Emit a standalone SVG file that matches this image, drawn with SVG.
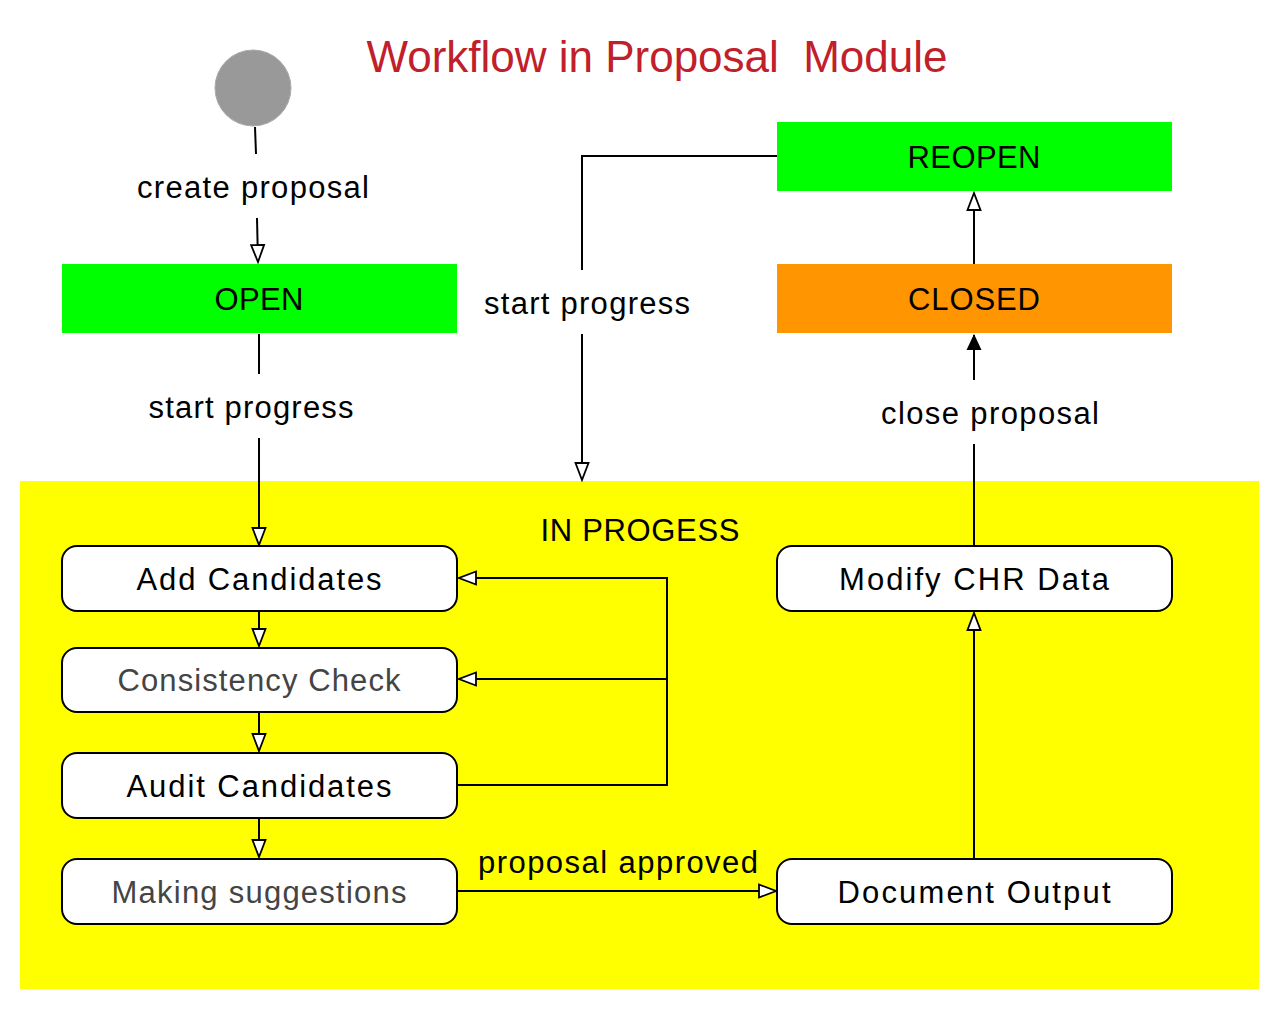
<svg xmlns="http://www.w3.org/2000/svg" width="1279" height="1010" viewBox="0 0 1279 1010">
<defs>
<style>
text{font-family:"Liberation Sans",Arial,sans-serif;text-anchor:middle;fill:#000;font-size:31px}
.g{fill:#444}
.node{fill:#fff;stroke:#000;stroke-width:2}
.c{fill:none;stroke:#000;stroke-width:2}
</style>
<marker id="oa" markerWidth="20" markerHeight="16" refX="18" refY="8" orient="auto" markerUnits="userSpaceOnUse">
<path d="M1,1.5 L18,8 L1,14.5 Z" fill="#fff" stroke="#000" stroke-width="1.8"/>
</marker>
<marker id="fa" markerWidth="16" markerHeight="16" refX="15" refY="8" orient="auto" markerUnits="userSpaceOnUse">
<path d="M0,0.5 L16,8 L0,15.5 Z" fill="#000"/>
</marker>
</defs>
<rect x="0" y="0" width="1279" height="1010" fill="#fff"/>
<text x="657" y="72" xml:space="preserve" textLength="581" lengthAdjust="spacing" style="font-size:44px;fill:#c1202b">Workflow in Proposal  Module</text>
<rect id="inprogress" x="20" y="481" width="1239" height="508" fill="#ffff00"/>
<text x="640" y="541" textLength="199" lengthAdjust="spacing">IN PROGESS</text>
<g id="connectors">
<path class="c" d="M255,127 L256,154"/>
<path class="c" d="M257,218 L258,262" marker-end="url(#oa)"/>
<path class="c" d="M259,334 L259,374"/>
<path class="c" d="M259,438 L259,545" marker-end="url(#oa)"/>
<path class="c" d="M259,612 L259,646" marker-end="url(#oa)"/>
<path class="c" d="M259,713 L259,751" marker-end="url(#oa)"/>
<path class="c" d="M259,819 L259,857" marker-end="url(#oa)"/>
<path class="c" d="M458,785 L667,785 L667,578 L459,578" marker-end="url(#oa)"/>
<path class="c" d="M667,679 L459,679" marker-end="url(#oa)"/>
<path class="c" d="M458,891 L776,891" marker-end="url(#oa)"/>
<path class="c" d="M974,858 L974,613" marker-end="url(#oa)"/>
<path class="c" d="M974,546 L974,444"/>
<path class="c" d="M974,380 L974,335" marker-end="url(#fa)"/>
<path class="c" d="M974,264 L974,193" marker-end="url(#oa)"/>
<path class="c" d="M777,156 L582,156 L582,270"/>
<path class="c" d="M582,334 L582,480" marker-end="url(#oa)"/>
<text x="253" y="198" textLength="232" lengthAdjust="spacing">create proposal</text>
<text x="251" y="418" textLength="205" lengthAdjust="spacing">start progress</text>
<text x="587" y="314" textLength="206" lengthAdjust="spacing">start progress</text>
<text x="990" y="424" textLength="218" lengthAdjust="spacing">close proposal</text>
<text x="618" y="873" textLength="280" lengthAdjust="spacing">proposal approved</text>
</g>
<g id="start"><circle cx="253" cy="88" r="38" fill="#999" stroke="#aaa" stroke-width="1"/></g>
<g id="open"><rect x="62" y="264" width="395" height="69" fill="#00ff00"/><text x="259" y="310" textLength="89" lengthAdjust="spacing">OPEN</text></g>
<g id="closed"><rect x="777" y="264" width="395" height="69" fill="#ff9500"/><text x="974" y="310" textLength="132" lengthAdjust="spacing">CLOSED</text></g>
<g id="reopen"><rect x="777" y="122" width="395" height="69" fill="#00ff00"/><text x="974" y="168" textLength="133" lengthAdjust="spacing">REOPEN</text></g>
<g id="add"><rect class="node" x="62" y="546" width="395" height="65" rx="15"/><text x="259" y="590" textLength="245" lengthAdjust="spacing">Add Candidates</text></g>
<g id="consistency"><rect class="node" x="62" y="648" width="395" height="64" rx="15"/><text class="g" x="259" y="691" textLength="283" lengthAdjust="spacing">Consistency Check</text></g>
<g id="audit"><rect class="node" x="62" y="753" width="395" height="65" rx="15"/><text x="259" y="797" textLength="265" lengthAdjust="spacing">Audit Candidates</text></g>
<g id="making"><rect class="node" x="62" y="859" width="395" height="65" rx="15"/><text class="g" x="259" y="903" textLength="295" lengthAdjust="spacing">Making suggestions</text></g>
<g id="modify"><rect class="node" x="777" y="546" width="395" height="65" rx="15"/><text x="974" y="590" textLength="270" lengthAdjust="spacing">Modify CHR Data</text></g>
<g id="document"><rect class="node" x="777" y="859" width="395" height="65" rx="15"/><text x="974" y="903" textLength="273" lengthAdjust="spacing">Document Output</text></g>
</svg>
